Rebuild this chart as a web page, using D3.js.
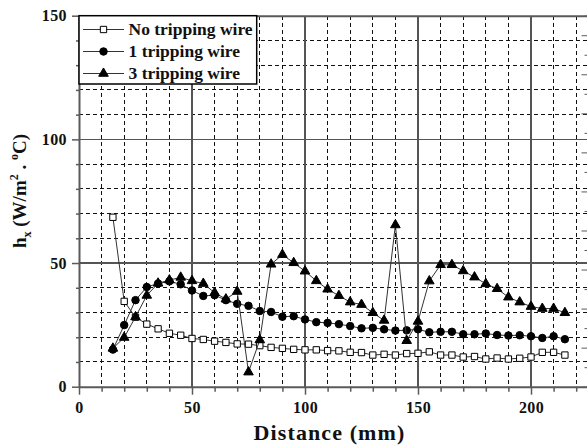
<!DOCTYPE html>

<head>
    <meta charset="utf-8">

    <style>
        body {
            margin: 0;
            background: #fff;
        }

        svg {
            position: absolute;
            top: 0;
            left: 0;
        }

        svg text {
            font-family: "Liberation Serif", "DejaVu Serif", "Times New Roman", Times, serif !important;
        }

        .axis path {
            stroke: #5a5a5a;
            stroke-width: 2px;
        }

        .axis line {
            stroke: #5a5a5a;
            stroke-width: 1.5px;
        }

        .axis text {
            font-weight: bold;
            font-size: 16px;
            letter-spacing: 0.4px;
            fill: #111;
        }

        .grid line {
            shape-rendering: crispEdges;
        }

        .grid .minor {
            stroke: #111;
            stroke-width: 1px;
            stroke-dasharray: 4, 3;
        }

        .grid .major {
            stroke: #555;
            stroke-width: 1.3px;
        }

        .series path {
            fill: none;
            stroke: #333;
            stroke-width: 1px;
        }

        .legend text {
            font-weight: bold;
            font-size: 17.5px;
            fill: #111;
        }

        .title {
            font-weight: bold;
            fill: #111;
        }
    </style>

    <script src="https://d3js.org/d3.v7.min.js"></script>
</head>

<body>
    <script>
        ////////////// Data //////////////

        //Distance along the plate (mm)
        const distance = [15, 20, 25, 30, 35, 40, 45, 50, 55, 60, 65, 70, 75, 80, 85, 90, 95, 100,
            105, 110, 115, 120, 125, 130, 135, 140, 145, 150, 155, 160, 165, 170, 175, 180, 185,
            190, 195, 200, 205, 210, 215]

        //h_x (W/m2.oC)
        const no_wire = [68.5, 34.5, 28.1, 25.3, 23.4, 21.6, 20.8, 19.5, 19.1, 18.4, 17.9, 17.3,
            17.2, 16.6, 15.9, 15.5, 15.1, 14.9, 14.9, 14.6, 14.5, 13.9, 13.8, 12.8, 13.1, 12.8,
            13.4, 13.5, 14.1, 12.8, 12.8, 12.0, 12.2, 11.2, 11.6, 11.2, 11.5, 12.0, 13.9, 13.9, 12.8]

        const one_wire = [15.0, 24.9, 35.0, 40.3, 41.7, 42.6, 41.4, 38.9, 36.7, 37.0, 35.0, 33.5,
            32.7, 30.6, 30.2, 28.3, 28.5, 27.2, 26.1, 25.8, 25.3, 24.5, 23.6, 23.8, 23.2, 22.7,
            22.8, 23.2, 22.0, 22.2, 22.2, 21.2, 21.2, 21.5, 20.9, 20.7, 20.8, 20.4, 19.7, 20.4, 19.2]

        const three_wire = [15.5, 19.9, 28.2, 36.9, 41.8, 43.1, 44.2, 42.8, 41.7, 38.0, 35.4, 38.5,
            5.9, 18.9, 49.5, 53.4, 50.1, 46.7, 42.8, 39.4, 36.8, 34.2, 33.2, 29.9, 26.8, 65.4,
            18.6, 26.4, 42.7, 49.3, 49.3, 46.8, 44.3, 41.6, 39.6, 36.2, 34.2, 32.4, 31.6, 31.6, 29.9]

        const series_names = ["No tripping wire", "1 tripping wire", "3 tripping wire"]
        const x_ticks = [0, 50, 100, 150, 200]
        const y_ticks = [0, 50, 100, 150]

        ////////////// Create the SVG //////////////

        let margin = {
            top: 15.7,
            right: 0,
            bottom: 59.3,
            left: 79
        }
        let width = 508.5,
            height = 371

        let svg = d3.select("body")
            .append("svg")
            .attr("width", 587)
            .attr("height", 446)
            .append("g")
            .attr("transform", "translate(" + margin.left + "," + margin.top + ")")

        ////////////// Scales //////////////

        const x_scale = d3.scaleLinear() //distance
            .domain([0, 225])
            .range([0, width])

        const y_scale = d3.scaleLinear() //h_x
            .domain([0, 150])
            .range([height, 0])

        //the secondary axis on the right only shows its tick marks
        const y2_scale = d3.scaleLinear()
            .domain([0, 190])
            .range([height, 0])

        ////////////// Grid //////////////

        let grid = svg.append("g").attr("class", "grid")

        const x_minor = d3.range(10, 225, 10).filter(d => d % 50 !== 0)
        const y_minor = d3.range(10, 150, 10).filter(d => d % 50 !== 0)

        grid.selectAll(".vx")
            .data(x_minor)
            .join("line")
            .attr("class", "minor")
            .attr("x1", d => x_scale(d)).attr("x2", d => x_scale(d))
            .attr("y1", 0).attr("y2", height)

        grid.selectAll(".hy")
            .data(y_minor)
            .join("line")
            .attr("class", "minor hy")
            .attr("x1", 0).attr("x2", width)
            .attr("y1", d => y_scale(d)).attr("y2", d => y_scale(d))

        grid.selectAll(".vmaj")
            .data(x_ticks.filter(d => d > 0))
            .join("line")
            .attr("class", "major vmaj")
            .attr("x1", d => x_scale(d)).attr("x2", d => x_scale(d))
            .attr("y1", 0).attr("y2", height)

        grid.selectAll(".hmaj")
            .data([50, 100])
            .join("line")
            .attr("class", "major hmaj")
            .attr("x1", 0).attr("x2", width)
            .attr("y1", d => y_scale(d)).attr("y2", d => y_scale(d))

        ////////////// Axes //////////////

        //minor ticks first, then the major ones with labels
        svg.append("g")
            .attr("class", "axis")
            .attr("transform", "translate(0," + height + ")")
            .call(d3.axisBottom(x_scale).tickValues(x_minor).tickSize(5).tickFormat(""))
            .select("path").remove()

        svg.append("g")
            .attr("class", "axis")
            .call(d3.axisLeft(y_scale).tickValues(y_minor).tickSize(3).tickFormat(""))
            .select("path").remove()

        svg.append("g")
            .attr("class", "axis")
            .attr("transform", "translate(" + width + ",0)")
            .call(d3.axisLeft(y2_scale).tickValues(d3.range(0, 191, 10)).tickSize(0).tickFormat(""))
            .selectAll(".tick line")
            .attr("x2", d => d % 20 === 0 ? -6 : -3)
            .style("stroke-width", "1px")

        svg.append("g")
            .attr("class", "axis")
            .call(d3.axisTop(x_scale).ticks(0).tickSizeOuter(0))

        svg.append("g")
            .attr("class", "axis")
            .attr("transform", "translate(0," + height + ")")
            .call(d3.axisBottom(x_scale).tickValues(x_ticks).tickSize(8).tickSizeOuter(0).tickPadding(7))

        svg.append("g")
            .attr("class", "axis")
            .call(d3.axisLeft(y_scale).tickValues(y_ticks).tickSize(7).tickSizeOuter(0).tickPadding(5))

        ////////////// Series //////////////

        const series = [
            { name: series_names[0], values: no_wire, symbol: d3.symbolSquare, size: 40, fill: "#fff" },
            { name: series_names[1], values: one_wire, symbol: d3.symbolCircle, size: 44, fill: "#000" },
            { name: series_names[2], values: three_wire, symbol: d3.symbolTriangle, size: 40, fill: "#000" }
        ]

        const line = d3.line()
            .x((d, i) => x_scale(distance[i]))
            .y(d => y_scale(d))

        series.forEach(s => {
            let g = svg.append("g").attr("class", "series")

            g.append("path")
                .attr("d", line(s.values))

            g.selectAll(".mark")
                .data(s.values)
                .join("path")
                .attr("transform", (d, i) => "translate(" + x_scale(distance[i]) + "," + y_scale(d) + ")")
                .attr("d", d3.symbol().type(s.symbol).size(s.size))
                .style("fill", s.fill)
                .style("stroke", "#000")
                .style("stroke-width", 1)
        })

        ////////////// Legend //////////////

        let legend = svg.append("g").attr("class", "legend")

        legend.append("rect")
            .attr("x", 0)
            .attr("y", 0)
            .attr("width", 177.7)
            .attr("height", 68.3)
            .style("fill", "#fff")
            .style("stroke", "#000")
            .style("stroke-width", 1.5)

        series.forEach((s, i) => {
            let row = legend.append("g")
                .attr("transform", "translate(0," + (13.8 + i * 22) + ")")

            row.append("line")
                .attr("x1", 4).attr("x2", 45)
                .style("stroke", "#333")
                .style("stroke-width", 1)

            row.append("path")
                .attr("transform", "translate(24.5,0)")
                .attr("d", d3.symbol().type(s.symbol).size(s.size))
                .style("fill", s.fill)
                .style("stroke", "#000")

            row.append("text")
                .attr("x", 49.5)
                .attr("dy", "0.33em")
                .text(s.name)
        })

        ////////////// Titles //////////////

        svg.append("text")
            .attr("class", "title")
            .attr("x", 250.5)
            .attr("y", height + 53.5)
            .attr("text-anchor", "middle")
            .style("font-size", "22px")
            .style("letter-spacing", "1.1px")
            .text("Distance (mm)")

        let y_title = svg.append("text")
            .attr("class", "title")
            .attr("transform", "translate(" + (25.5 - margin.left) + "," + (191 - margin.top) + ") rotate(-90)")
            .attr("text-anchor", "middle")
            .style("font-size", "19px")

        y_title.append("tspan").text("h")
        y_title.append("tspan").attr("dy", 5).style("font-size", "12px").text("x")
        y_title.append("tspan").attr("dy", -5).text(" (W/m")
        y_title.append("tspan").attr("dy", -8).style("font-size", "12px").text("2")
        y_title.append("tspan").attr("dy", 8).text(" . ")
        y_title.append("tspan").attr("dy", -8).style("font-size", "12px").text("o")
        y_title.append("tspan").attr("dy", 8).text("C)")

    </script>
</body>
